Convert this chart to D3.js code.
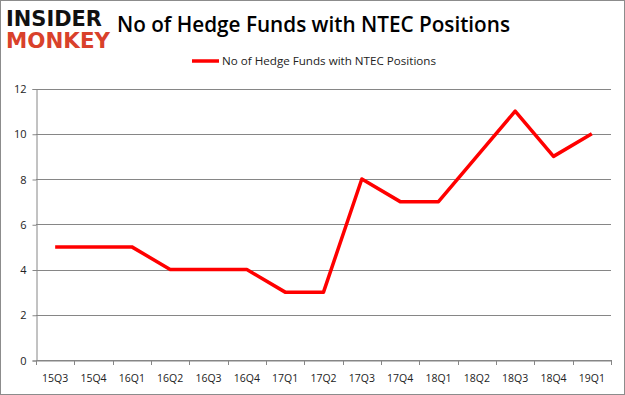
<!DOCTYPE html>
<html>
<head>
<meta charset="utf-8">
<script src="https://cdn.jsdelivr.net/npm/d3@7"></script>
<style>
  body { margin: 0; background: #fff; }
  svg { display: block; }
</style>
</head>
<body>
<svg id="chart" width="625" height="395"></svg>
<script>
// data
const quarters = ["15Q3", "15Q4", "16Q1", "16Q2", "16Q3", "16Q4", "17Q1", "17Q2",
                  "17Q3", "17Q4", "18Q1", "18Q2", "18Q3", "18Q4", "19Q1"];
const hedgeFunds = [5, 5, 5, 4, 4, 4, 3, 3, 8, 7, 7, 9, 11, 9, 10];
const yTicks = [0, 2, 4, 6, 8, 10, 12];
const seriesName = "No of Hedge Funds with NTEC Positions";

const svg = d3.select("#chart");
const W = 625, H = 395;
const font = "'Open Sans', 'DejaVu Sans', sans-serif";

// outer frame
svg.append("rect")
    .attr("x", 0.5).attr("y", 0.5)
    .attr("width", W - 1).attr("height", H - 1)
    .attr("fill", "#fff").attr("stroke", "#8c8c8c");

// logo
svg.append("text")
    .attr("x", 6).attr("y", 26)
    .attr("font-family", "'DejaVu Sans', sans-serif")
    .attr("font-weight", "bold").attr("font-size", 21)
    .attr("textLength", 96).attr("lengthAdjust", "spacingAndGlyphs")
    .attr("fill", "#111").text("INSIDER");
svg.append("text")
    .attr("x", 6).attr("y", 48)
    .attr("font-family", "'DejaVu Sans', sans-serif")
    .attr("font-weight", "bold").attr("font-size", 21)
    .attr("textLength", 104).attr("lengthAdjust", "spacingAndGlyphs")
    .attr("fill", "#d9412b").text("MONKEY");

// title
svg.append("text")
    .attr("x", 117).attr("y", 32)
    .attr("font-family", font).attr("font-weight", "600")
    .attr("font-size", 21)
    .attr("textLength", 393).attr("lengthAdjust", "spacingAndGlyphs")
    .attr("fill", "#000").text(seriesName);

// plot area
const plot = { left: 36, right: 611, top: 88.5, bottom: 360 };

const x = d3.scaleBand()
    .domain(quarters)
    .range([plot.left, plot.right]);

const y = d3.scaleLinear()
    .domain([0, 12])
    .range([plot.bottom, plot.top]);

// gridlines
svg.append("g")
    .selectAll("line")
    .data(yTicks)
    .enter().append("line")
    .attr("x1", plot.left).attr("x2", plot.right)
    .attr("y1", d => Math.round(y(d)) + 0.5)
    .attr("y2", d => Math.round(y(d)) + 0.5)
    .attr("stroke", "#868686").attr("stroke-width", 1);

// y axis
const yAxis = svg.append("g")
    .attr("transform", `translate(${plot.left + 0.5},0.5)`)
    .call(d3.axisLeft(y).tickValues(yTicks).tickSize(4).tickPadding(6));
yAxis.select(".domain").attr("stroke", "#868686");
yAxis.selectAll(".tick line").attr("stroke", "#868686");
yAxis.selectAll(".tick text")
    .attr("font-family", font).attr("font-size", 11).attr("fill", "#222");

// x axis
const xAxis = svg.append("g")
    .attr("transform", `translate(0,${Math.round(plot.bottom) + 0.5})`)
    .call(d3.axisBottom(x).tickSize(0).tickPadding(14));
xAxis.select(".domain").attr("stroke", "#868686");
xAxis.selectAll(".tick text")
    .attr("font-family", font).attr("font-size", 10.5).attr("fill", "#222");

// tick marks between categories
const edges = quarters.map(q => x(q)).concat([plot.right]);
svg.append("g")
    .selectAll("line")
    .data(edges)
    .enter().append("line")
    .attr("x1", d => Math.round(d) + 0.5).attr("x2", d => Math.round(d) + 0.5)
    .attr("y1", Math.round(plot.bottom)).attr("y2", Math.round(plot.bottom) + 5)
    .attr("stroke", "#868686");

// line
const line = d3.line()
    .x((d, i) => x(quarters[i]) + x.bandwidth() / 2)
    .y(d => y(d));

svg.append("path")
    .datum(hedgeFunds)
    .attr("d", line)
    .attr("fill", "none")
    .attr("stroke", "#ff0000")
    .attr("stroke-width", 3.5)
    .attr("stroke-linejoin", "round");

// legend
svg.append("line")
    .attr("x1", 192).attr("x2", 219)
    .attr("y1", 61).attr("y2", 61)
    .attr("stroke", "#ff0000").attr("stroke-width", 3.5);
svg.append("text")
    .attr("x", 222).attr("y", 65)
    .attr("font-family", font).attr("font-size", 11)
    .attr("textLength", 214).attr("lengthAdjust", "spacingAndGlyphs")
    .attr("fill", "#222").text(seriesName);
</script>
</body>
</html>
